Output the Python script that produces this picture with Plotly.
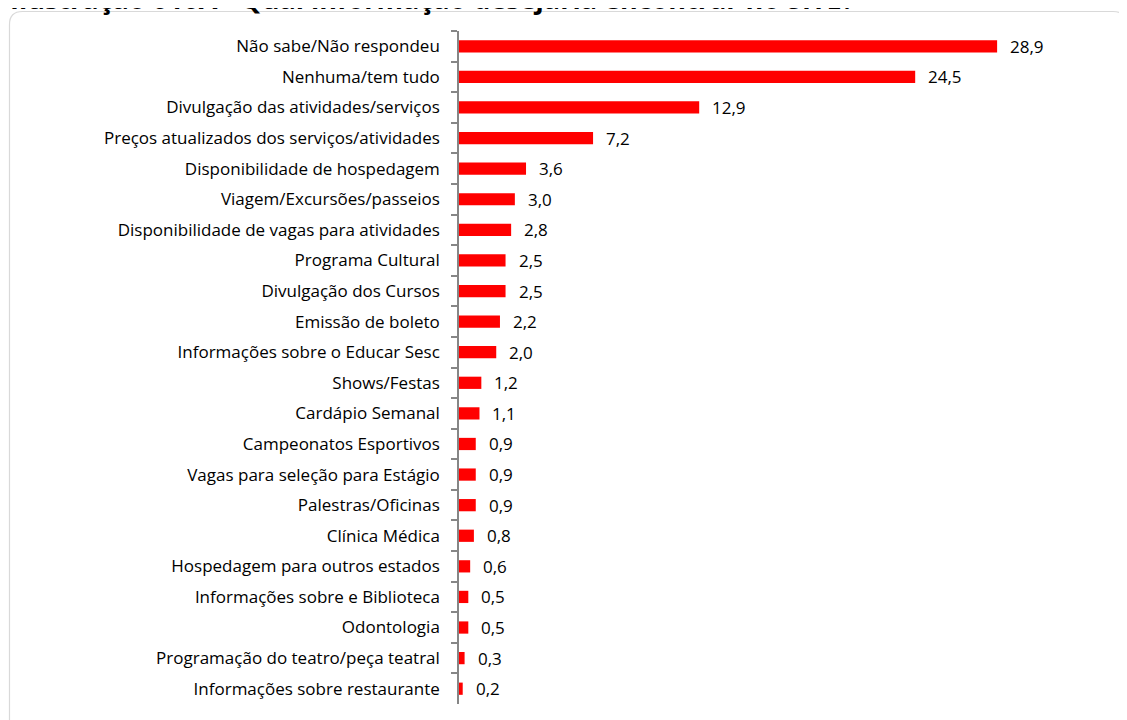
import plotly.graph_objects as go

categories = [
    "Não sabe/Não respondeu",
    "Nenhuma/tem tudo",
    "Divulgação das atividades/serviços",
    "Preços atualizados dos serviços/atividades",
    "Disponibilidade de hospedagem",
    "Viagem/Excursões/passeios",
    "Disponibilidade de vagas para atividades",
    "Programa Cultural",
    "Divulgação dos Cursos",
    "Emissão de boleto",
    "Informações sobre o Educar Sesc",
    "Shows/Festas",
    "Cardápio Semanal",
    "Campeonatos Esportivos",
    "Vagas para seleção para Estágio",
    "Palestras/Oficinas",
    "Clínica Médica",
    "Hospedagem para outros estados",
    "Informações sobre e Biblioteca",
    "Odontologia",
    "Programação do teatro/peça teatral",
    "Informações sobre restaurante",
]
values = [28.9, 24.5, 12.9, 7.2, 3.6, 3.0, 2.8, 2.5, 2.5, 2.2, 2.0, 1.2, 1.1,
          0.9, 0.9, 0.9, 0.8, 0.6, 0.5, 0.5, 0.3, 0.2]
title_text = "Ilustração 010A - Qual informação desejaria encontrar no SITE?"

OFF = 8  # page body margin
W, H = 1127, 720
# target page pixel positions of plot area
PL, PR, PT, PB = 459, 1055, 31, 704
ML, MT = PL - OFF, PT - OFF
MR = W - (PR - OFF)
MB = H - (PB - OFF)
PW, PH = W - ML - MR, H - MT - MB

def px(x):  # page pixel -> paper
    return (x - OFF - ML) / PW

def py(y):
    return (H - MB - (y - OFF)) / PH

FONT = "Open Sans, sans-serif"

fig = go.Figure()
fig.add_trace(go.Bar(
    y=categories, x=values, orientation="h",
    marker=dict(color="#FF0000", line=dict(width=0)),
    width=0.4, hoverinfo="x+y",
))

for c, v in zip(categories, values):
    fig.add_annotation(
        x=v, y=c, xref="x", yref="y", text=f"{v:.1f}".replace(".", ","),
        showarrow=False, xanchor="left", xshift=11,
        font=dict(family=FONT, size=17, color="#000000"),
    )

# rounded border
x0, y0, x1, y1, r = 9.5, 11.5, 1126, 740, 13
path = (f"M {px(x0)},{py(y1)} L {px(x0)},{py(y0 + r)} "
        f"Q {px(x0)},{py(y0)} {px(x0 + r)},{py(y0)} "
        f"L {px(x1 - r)},{py(y0)} Q {px(x1)},{py(y0)} {px(x1)},{py(y0 + r)} "
        f"L {px(x1)},{py(y1)}")
fig.add_shape(type="path", path=path, xref="paper", yref="paper",
              line=dict(color="#D9D9D9", width=1.2), layer="below")

fig.add_annotation(
    x=px(8), y=py(19), xref="paper", yref="paper", text="<b>" + title_text + "</b>",
    showarrow=False, xanchor="left", yanchor="bottom",
    font=dict(family=FONT, size=27, color="#000000"),
)

fig.update_layout(
    width=W, height=H,
    margin=dict(l=ML, r=MR, t=MT, b=MB),
    paper_bgcolor="white", plot_bgcolor="white",
    showlegend=False,
    separators=",.",
    xaxis=dict(range=[0, PW / 18.62], visible=False, fixedrange=True),
    yaxis=dict(
        autorange="reversed", type="category",
        showline=True, linecolor="#868686", linewidth=1.5,
        ticks="outside", tickson="boundaries", ticklen=6, tickcolor="#868686",
        tickwidth=1.5, showgrid=False, ticklabelstandoff=14,
        tickfont=dict(family=FONT, size=17, color="#000000"),
    ),
    bargap=0.6,
)

fig.write_html("out.html")
